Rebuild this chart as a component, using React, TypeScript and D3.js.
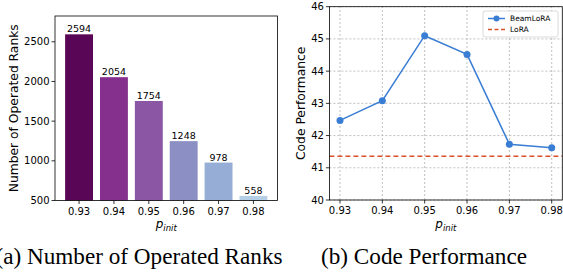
import React from "react"
import * as d3 from "d3"

// ---------- Data ----------
const pValues = ["0.93", "0.94", "0.95", "0.96", "0.97", "0.98"]
const rankCounts = [2594, 2054, 1754, 1248, 978, 558]
const barColors = ["#5a0656", "#86308e", "#8b56a4", "#8c8fc4", "#96aed5", "#b5cfe6"]
const rankTicks = [500, 1000, 1500, 2000, 2500]

const beamLoRA = [42.47, 43.08, 45.1, 44.52, 41.73, 41.62]
const loraBaseline = 41.36
const perfTicks = [40, 41, 42, 43, 44, 45, 46]

const W = 563
const H = 275
const FONT = "DejaVu Sans, sans-serif"
const SERIF = "Liberation Serif, Times New Roman, serif"

const AxisX = ({ y, labels, positions }: { y: number; labels: string[]; positions: number[] }) => (
    <g>
        {labels.map((l, i) => (
            <g key={l} transform={`translate(${positions[i]},${y})`}>
                <line y2={3.5} stroke="#000" strokeWidth={0.8} />
                <text y={14} textAnchor="middle" fontSize={10} fontFamily={FONT} fill="#000">{l}</text>
            </g>
        ))}
    </g>
)

const XLabel = ({ x, y }: { x: number; y: number }) => (
    <text x={x} y={y} textAnchor="middle" fontSize={12} fontFamily={FONT} fontStyle="italic" fill="#000">
        p<tspan fontSize={8.5} dy={3}>init</tspan>
    </text>
)

export default function App() {
    // ----- left: bars -----
    const lx = d3.scaleLinear().domain([-0.69, 5.69]).range([55, 277.5])
    const ly = d3.scaleLinear().domain([500, 2825]).range([200.5, 16])
    const bw = lx(0.8) - lx(0)

    // ----- right: line -----
    const rx = d3.scaleLinear().domain([0.9275, 0.9825]).range([329.4, 562.3])
    const ry = d3.scaleLinear().domain([40, 46]).range([200, 6.7])
    const pNum = pValues.map(Number)
    const line = d3.line<number>().x((_, i) => rx(pNum[i])).y(d => ry(d))

    return (
        <svg width={W} height={H} style={{ position: "absolute", left: 0, top: 0, background: "#fff" }}>
            {/* ---------- (a) ---------- */}
            {rankCounts.map((v, i) => (
                <g key={i}>
                    <rect x={lx(i) - bw / 2} y={ly(v)} width={bw} height={ly(500) - ly(v)} fill={barColors[i]} />
                    <text x={lx(i)} y={ly(v) - 2} textAnchor="middle" fontSize={9.5} fontFamily={FONT} fill="#000">{v}</text>
                </g>
            ))}
            {rankTicks.map(t => (
                <g key={t} transform={`translate(${lx.range()[0]},${ly(t)})`}>
                    <line x2={-3.5} stroke="#000" strokeWidth={0.8} />
                    <text x={-5.5} dy="0.35em" textAnchor="end" fontSize={10} fontFamily={FONT} fill="#000">{t}</text>
                </g>
            ))}
            <rect x={lx.range()[0]} y={ly.range()[1]} width={lx.range()[1] - lx.range()[0]} height={ly.range()[0] - ly.range()[1]}
                fill="none" stroke="#000" strokeWidth={0.8} />
            <AxisX y={ly.range()[0]} labels={pValues} positions={pValues.map((_, i) => lx(i))} />
            <XLabel x={(lx.range()[0] + lx.range()[1]) / 2} y={228} />
            <text transform={`translate(18,${(ly.range()[0] + ly.range()[1]) / 2}) rotate(-90)`} textAnchor="middle"
                fontSize={12.3} fontFamily={FONT} fill="#000">Number of Operated Ranks</text>
            <text x={139} y={264} textAnchor="middle" fontSize={23.2} fontFamily={SERIF} fill="#000">
                (a) Number of Operated Ranks
            </text>

            {/* ---------- (b) ---------- */}
            {pNum.map(p => (
                <line key={p} x1={rx(p)} x2={rx(p)} y1={ry(40)} y2={ry(46)} stroke="#b0b0b0" strokeWidth={0.8} strokeDasharray="2,2" />
            ))}
            {perfTicks.map(t => (
                <line key={t} x1={rx.range()[0]} x2={rx.range()[1]} y1={ry(t)} y2={ry(t)} stroke="#b0b0b0" strokeWidth={0.8} strokeDasharray="2,2" />
            ))}
            <line x1={rx.range()[0]} x2={rx.range()[1]} y1={ry(loraBaseline)} y2={ry(loraBaseline)}
                stroke="#d9502b" strokeWidth={1.5} strokeDasharray="5,3" />
            <path d={line(beamLoRA) ?? ""} fill="none" stroke="#3a7dd4" strokeWidth={1.5} />
            {beamLoRA.map((v, i) => (
                <circle key={i} cx={rx(pNum[i])} cy={ry(v)} r={3.5} fill="#3a7dd4" />
            ))}
            {perfTicks.map(t => (
                <g key={t} transform={`translate(${rx.range()[0]},${ry(t)})`}>
                    <line x2={-3.5} stroke="#000" strokeWidth={0.8} />
                    <text x={-5.5} dy="0.35em" textAnchor="end" fontSize={10} fontFamily={FONT} fill="#000">{t}</text>
                </g>
            ))}
            <rect x={rx.range()[0]} y={ry.range()[1]} width={rx.range()[1] - rx.range()[0]} height={ry.range()[0] - ry.range()[1]}
                fill="none" stroke="#000" strokeWidth={0.8} />
            <AxisX y={ry.range()[0]} labels={pValues} positions={pNum.map(p => rx(p))} />
            <XLabel x={(rx.range()[0] + rx.range()[1]) / 2} y={228} />
            <text transform={`translate(305,${(ry.range()[0] + ry.range()[1]) / 2}) rotate(-90)`} textAnchor="middle"
                fontSize={12.3} fontFamily={FONT} fill="#000">Code Performance</text>
            <text x={424} y={264} textAnchor="middle" fontSize={23.2} fontFamily={SERIF} fill="#000">
                (b) Code Performance
            </text>

            {/* legend */}
            <g transform="translate(483,11)">
                <rect width={75} height={26} rx={2} fill="#fff" fillOpacity={0.85} stroke="#d0d0d0" strokeWidth={0.8} />
                <line x1={5} x2={22} y1={7.5} y2={7.5} stroke="#3a7dd4" strokeWidth={1.5} />
                <circle cx={13.5} cy={7.5} r={3} fill="#3a7dd4" />
                <text x={27} y={7.5} dy="0.35em" fontSize={7.5} fontFamily={FONT} fill="#000">BeamLoRA</text>
                <line x1={5} x2={22} y1={18.5} y2={18.5} stroke="#d9502b" strokeWidth={1.5} strokeDasharray="4,2.5" />
                <text x={27} y={18.5} dy="0.35em" fontSize={7.5} fontFamily={FONT} fill="#000">LoRA</text>
            </g>
        </svg>
    )
}
